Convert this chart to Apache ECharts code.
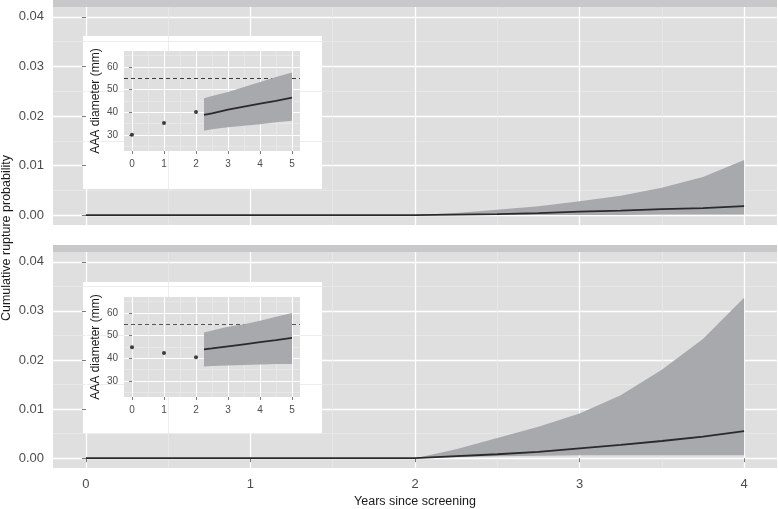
<!DOCTYPE html>
<html>
<head>
<meta charset="utf-8">
<script src="https://cdn.jsdelivr.net/npm/echarts@6/dist/echarts.min.js"></script>
<style>
  html, body { margin: 0; padding: 0; background: #fff; }
  #chart { width: 778px; height: 509px; }
</style>
</head>
<body>
<div id="chart"></div>
<script>
// main panels: cumulative rupture probability by years since screening
const years = [0, 0.25, 0.5, 0.75, 1, 1.25, 1.5, 1.75, 2, 2.25, 2.5, 2.75, 3, 3.25, 3.5, 3.75, 4]
const riskTop = [0, 0, 0, 0, 0, 0, 0, 0, 0, 0.0001, 0.0002, 0.0004, 0.0007, 0.0009, 0.0012, 0.0014, 0.0018]
const riskTopLow = [0, 0, 0, 0, 0, 0, 0, 0, 0, 0, 0, 0, 0, 0, 0.0001, 0.0001, 0.0001]
const riskTopHigh = [0, 0, 0, 0, 0, 0, 0, 0, 0, 0.0004, 0.0011, 0.0018, 0.0028, 0.0039, 0.0055, 0.0077, 0.0111]
const riskBottom = [0, 0, 0, 0, 0, 0, 0, 0, 0, 0.0004, 0.0008, 0.0013, 0.002, 0.0027, 0.0035, 0.0044, 0.0055]
const riskBottomLow = [0, 0, 0, 0, 0, 0, 0, 0, 0, 0.0002, 0.0004, 0.0005, 0.0006, 0.0006, 0.0006, 0.0006, 0.0006]
const riskBottomHigh = [0, 0, 0, 0, 0, 0, 0, 0, 0, 0.0018, 0.0041, 0.0064, 0.0091, 0.0128, 0.018, 0.0243, 0.0327]

// insets: AAA diameter, measured then projected
const scanYears = [0, 1, 2]
const diamTop = [30.2, 35.3, 40.2]
const diamBottom = [44.9, 42.4, 40.5]
const projYears = [2.25, 2.5, 3, 3.5, 4, 4.5, 5]
const projTop = [38.9, 39.6, 41.2, 42.5, 43.8, 45.1, 46.5]
const projTopLow = [31.9, 32.6, 33.4, 34.1, 34.8, 35.6, 36.3]
const projTopHigh = [46.2, 47.2, 49.0, 51.2, 53.4, 55.6, 57.5]
const projBottom = [44.0, 44.4, 45.3, 46.2, 47.1, 48.0, 49.0]
const projBottomLow = [36.4, 36.6, 36.9, 37.1, 37.3, 37.5, 37.5]
const projBottomHigh = [51.4, 52.3, 53.9, 55.0, 56.5, 58.3, 60.0]
const threshold = 55

// tick labels
const riskTicks = [0, 0.01, 0.02, 0.03, 0.04]
const riskMinor = [0.005, 0.015, 0.025, 0.035]
const yearTicks = [0, 1, 2, 3, 4]
const yearMinor = [0.5, 1.5, 2.5, 3.5]
const insetYearTicks = [0, 1, 2, 3, 4, 5]
const insetYearMinor = [0.5, 1.5, 2.5, 3.5, 4.5]
const diamTicks = [30, 40, 50, 60]
const diamMinor = [25, 35, 45, 55, 65]

const FONT = "'Liberation Sans', Arial, sans-serif"
const PANEL_BG = '#dfdfe0'
const STRIP = '#c8c8ca'
const MINOR = '#e9e9ea'
const BAND = '#a8a9ac'
const LINE = '#2a2a2a'
const TICK_TXT = '#4d4d4d'

const zip = (xs, ys) => xs.map((x, i) => [x, ys[i]])

function majorAxis(grid, min, max, ticks, opts) {
  const o = opts || {}
  return {
    type: 'value', gridIndex: grid, min, max, z: o.z || 0,
    axisLine: { show: false },
    axisTick: { show: !!o.labels, length: o.tickLen || 4, lineStyle: { color: '#7a7a7a' }, customValues: ticks },
    axisLabel: {
      show: !!o.labels, customValues: ticks, color: TICK_TXT, fontFamily: FONT,
      fontSize: o.fontSize || 13, margin: o.margin || 9,
      formatter: o.formatter
    },
    splitLine: { show: true, lineStyle: { color: '#ffffff', width: o.gridW || 1.3 } },
    name: o.name, nameLocation: 'middle', nameGap: o.nameGap,
    nameTextStyle: { color: '#1a1a1a', fontFamily: FONT, fontSize: o.nameSize || 12.5 }
  }
}

function minorAxis(grid, min, max, ticks, z) {
  return {
    type: 'value', gridIndex: grid, min, max, z: z || 0,
    axisLine: { show: false },
    axisTick: { show: false, customValues: ticks },
    axisLabel: { show: false, customValues: ticks },
    splitLine: { show: true, lineStyle: { color: MINOR, width: 0.8 } }
  }
}

// ribbon between lo and hi, drawn as one polygon through the axes' coord()
function band(xi, yi, xs, lo, hi, z) {
  return {
    type: 'custom', xAxisIndex: xi, yAxisIndex: yi, z, silent: true,
    data: xs.map((x, i) => [x, lo[i], hi[i]]),
    encode: { x: 0, y: [1, 2] },
    renderItem: (params, api) => {
      if (params.dataIndex !== 0) return null
      const pts = []
      for (let i = 0; i < xs.length; i++) pts.push(api.coord([xs[i], hi[i]]))
      for (let i = xs.length - 1; i >= 0; i--) pts.push(api.coord([xs[i], lo[i]]))
      return { type: 'polygon', shape: { points: pts }, style: { fill: BAND } }
    }
  }
}

function meanLine(xi, yi, xs, ys, z, extra) {
  return Object.assign({
    type: 'line', xAxisIndex: xi, yAxisIndex: yi, data: zip(xs, ys), symbol: 'none',
    lineStyle: { color: LINE, width: 1.8 }, z, silent: true
  }, extra || {})
}

function dashed(color) {
  return {
    silent: true, symbol: 'none', label: { show: false },
    lineStyle: { color, type: [4, 3], width: 1 },
    data: [{ yAxis: threshold }]
  }
}

const pct = (v) => v.toFixed(2)
const insetX = { labels: true, fontSize: 10, margin: 8, tickLen: 3, gridW: 1, z: 5 }
const insetY = { labels: true, fontSize: 10, margin: 6, tickLen: 3, gridW: 1, z: 5, name: 'AAA diameter (mm)', nameGap: 22, nameSize: 12 }

const option = {
  animation: false,
  backgroundColor: '#ffffff',
  grid: [
    { left: 53, right: 1, top: 7, height: 218, show: true, backgroundColor: PANEL_BG, borderWidth: 0 },
    { left: 53, right: 1, top: 252, height: 217, show: true, backgroundColor: PANEL_BG, borderWidth: 0 },
    { left: 124, width: 176, top: 51, height: 100, show: true, backgroundColor: PANEL_BG, borderWidth: 0, z: 5 },
    { left: 124, width: 176, top: 297, height: 100, show: true, backgroundColor: PANEL_BG, borderWidth: 0, z: 5 }
  ],
  xAxis: [
    majorAxis(0, -0.2, 4.2, yearTicks, {}),
    minorAxis(0, -0.2, 4.2, yearMinor),
    majorAxis(1, -0.2, 4.2, yearTicks, { labels: true, margin: 10, name: 'Years since screening', nameGap: 27 }),
    minorAxis(1, -0.2, 4.2, yearMinor),
    majorAxis(2, -0.25, 5.25, insetYearTicks, insetX),
    minorAxis(2, -0.25, 5.25, insetYearMinor, 5),
    majorAxis(3, -0.25, 5.25, insetYearTicks, insetX),
    minorAxis(3, -0.25, 5.25, insetYearMinor, 5)
  ],
  yAxis: [
    majorAxis(0, -0.002, 0.042, riskTicks, { labels: true, formatter: pct }),
    minorAxis(0, -0.002, 0.042, riskMinor),
    majorAxis(1, -0.002, 0.042, riskTicks, { labels: true, formatter: pct }),
    minorAxis(1, -0.002, 0.042, riskMinor),
    majorAxis(2, 23, 67, diamTicks, insetY),
    minorAxis(2, 23, 67, diamMinor, 5),
    majorAxis(3, 23, 67, diamTicks, insetY),
    minorAxis(3, 23, 67, diamMinor, 5)
  ],
  graphic: {
    z: 4,
    elements: [
      { type: 'rect', shape: { x: 53, y: 0, width: 724, height: 7 }, style: { fill: STRIP }, silent: true },
      { type: 'rect', shape: { x: 53, y: 245, width: 724, height: 7 }, style: { fill: STRIP }, silent: true },
      { type: 'rect', shape: { x: 83, y: 36, width: 239, height: 153 }, style: { fill: '#ffffff' }, silent: true },
      { type: 'rect', shape: { x: 83, y: 282, width: 239, height: 152 }, style: { fill: '#ffffff' }, silent: true },
      {
        type: 'text', x: 7, y: 238, rotation: Math.PI / 2, silent: true,
        style: { text: 'Cumulative rupture probability', fill: '#1a1a1a', font: '12.5px ' + FONT, align: 'center', verticalAlign: 'middle' }
      }
    ]
  },
  series: [
    band(0, 0, years, riskTopLow, riskTopHigh, 2),
    meanLine(0, 0, years, riskTop, 3),
    band(2, 2, years, riskBottomLow, riskBottomHigh, 2),
    meanLine(2, 2, years, riskBottom, 3),

    band(4, 4, projYears, projTopLow, projTopHigh, 6),
    meanLine(4, 4, projYears, projTop, 7, { markLine: dashed('#3a3a3a') }),
    {
      type: 'scatter', xAxisIndex: 4, yAxisIndex: 4, data: zip(scanYears, diamTop),
      symbolSize: 4, itemStyle: { color: '#111' }, z: 7, silent: true
    },
    band(6, 6, projYears, projBottomLow, projBottomHigh, 6),
    meanLine(6, 6, projYears, projBottom, 7, { markLine: dashed('#555555') }),
    {
      type: 'scatter', xAxisIndex: 6, yAxisIndex: 6, data: zip(scanYears, diamBottom),
      symbolSize: 4, itemStyle: { color: '#111' }, z: 7, silent: true
    }
  ]
}

const chart = echarts.init(document.getElementById('chart'))
chart.setOption(option)
</script>
</body>
</html>
